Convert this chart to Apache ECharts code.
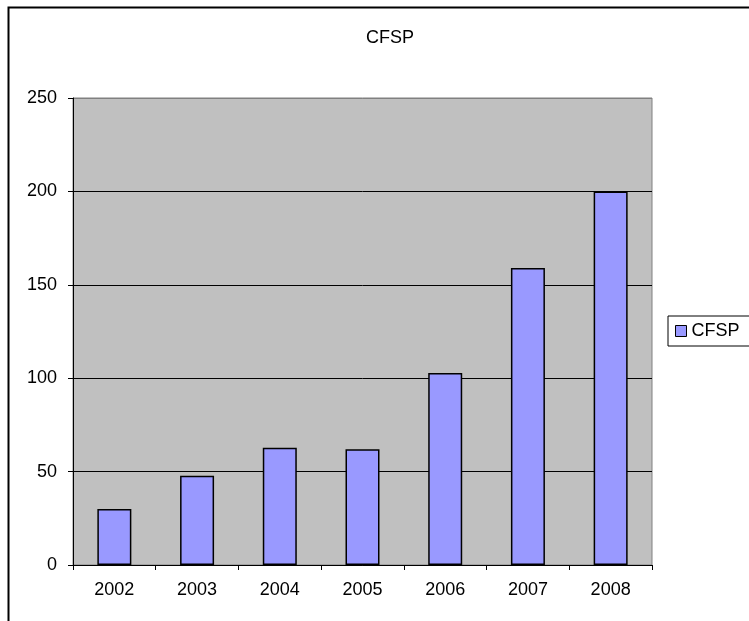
<!DOCTYPE html>
<html>
<head>
<meta charset="utf-8">
<script src="https://cdn.jsdelivr.net/npm/echarts@6/dist/echarts.min.js"></script>
<style>html,body{margin:0;padding:0;background:#fff;}#c{width:749px;height:621px;}</style>
</head>
<body>
<div id="c"></div>
<script>
var categories = ['2002', '2003', '2004', '2005', '2006', '2007', '2008'];
var seriesName = 'CFSP';
var values = [30, 47.8, 62.8, 62, 102.8, 159, 200];
var titleText = 'CFSP';

var FONT = '"Liberation Sans", Arial, sans-serif';
var chart = echarts.init(document.getElementById('c'), null, {renderer: 'canvas'});
chart.setOption({
  animation: false,
  backgroundColor: '#ffffff',
  textStyle: {fontFamily: FONT, color: '#000'},
  title: {
    text: titleText,
    left: 385, top: 24, textAlign: 'center',
    textStyle: {fontFamily: FONT, fontSize: 18, fontWeight: 'normal', color: '#000'}
  },
  legend: {
    data: [seriesName],
    left: 668, top: 316,
    orient: 'vertical',
    padding: [6, 12, 6, 7],
    borderColor: '#000', borderWidth: 1,
    backgroundColor: '#fff',
    itemWidth: 11, itemHeight: 11,
    icon: 'rect',
    itemStyle: {color: '#9999ff', borderColor: '#000', borderWidth: 1},
    textStyle: {fontFamily: FONT, fontSize: 18, color: '#000'}
  },
  grid: {
    left: 73, top: 98, width: 579, height: 467,
    show: true, backgroundColor: '#c0c0c0', borderColor: '#808080', borderWidth: 1
  },
  xAxis: {
    type: 'category',
    data: categories,
    boundaryGap: true,
    axisLine: {show: true, lineStyle: {color: '#000', width: 1}},
    axisTick: {show: true, length: 5, alignWithLabel: false, lineStyle: {color: '#000'}},
    axisLabel: {fontFamily: FONT, fontSize: 18, color: '#000', margin: 16},
    splitLine: {show: false}
  },
  yAxis: {
    type: 'value',
    min: 0, max: 250, interval: 50,
    axisLine: {show: true, lineStyle: {color: '#000', width: 1}},
    axisTick: {show: true, length: 5, lineStyle: {color: '#000'}},
    axisLabel: {fontFamily: FONT, fontSize: 18, color: '#000', margin: 16},
    splitLine: {show: true, lineStyle: {color: ['#000', '#000', '#000', '#000', '#000', '#808080'], width: 1}}
  },
  series: [{
    name: seriesName,
    type: 'bar',
    data: values,
    barWidth: 34,
    itemStyle: {color: '#9999ff', borderColor: '#000', borderWidth: 1.5}
  }],
  graphic: [{
    type: 'rect',
    shape: {x: 8.5, y: 7.5, width: 900, height: 800},
    style: {fill: 'none', stroke: '#000', lineWidth: 2},
    silent: true
  }]
});
</script>
</body>
</html>
